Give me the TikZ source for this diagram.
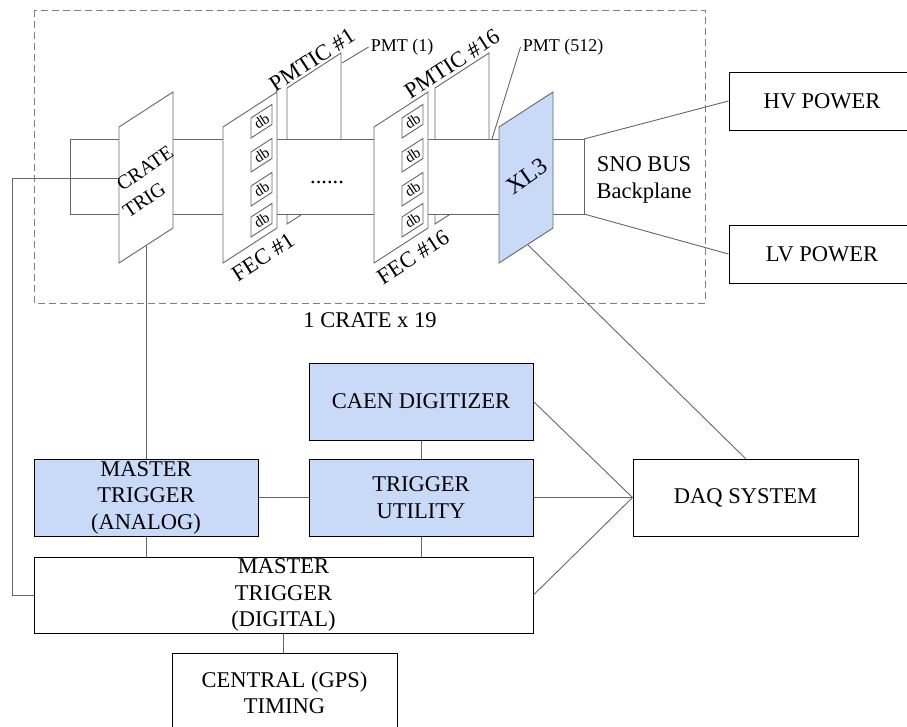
\documentclass[tikz,border=0pt]{standalone}
\usepackage{fontspec}
\setmainfont{Liberation Serif}
\usepackage{tikz}
\definecolor{cardblue}{HTML}{C9DAF8}
\definecolor{wiregray}{HTML}{666666}
\newcommand{\boxfont}{\fontsize{22.5}{26.5}\selectfont}
\newcommand{\smallfont}{\fontsize{18}{21}\selectfont}
\newcommand{\dbfont}{\fontsize{15}{17}\selectfont}
\tikzstyle{box} = [draw=black, line width=1pt, align=center, inner sep=0pt,
    minimum width=224pt, minimum height=77pt, font=\boxfont]
\tikzstyle{wire} = [draw=wiregray, line width=0.9pt]
\tikzstyle{cardline} = [draw=wiregray, line width=0.9pt]
\tikzstyle{cardtext} = [inner sep=2pt, align=center, font=\boxfont]
% one slanted card, bottom left corner at (#1,#2)
\newcommand{\card}[3]{\draw[cardline, fill=#3] (#1,#2) -- ++(0,-136) -- ++(54,-35) -- ++(0,136) -- cycle;}

\begin{document}
\begin{tikzpicture}[x=1pt, y=-1pt]
  \useasboundingbox (0,0) rectangle (907,726);
  % crate
  \draw[draw=gray, line width=0.9pt, dash pattern=on 7pt off 4pt] (34,10) rectangle (705,303);
  \node [cardtext] (crates) at (370,320) {1 CRATE x 19};
  % PMTIC cards behind the backplane
  \card{287}{224}{white}
  \card{435}{224}{white}
  \draw[cardline, fill=white] (70,139) rectangle (584,214);
  \card{119}{263}{white}
  \card{223}{263}{white}
  \card{374}{263}{white}
  \card{499}{263}{cardblue}
  \foreach \cx in {223,374}
    \foreach \dy in {125,91,57,26} {
      \draw[cardline, fill=white] (\cx+28,263-\dy) -- ++(0,-20) -- ++(21,-13.6) -- ++(0,20) -- cycle;
      \node [inner sep=0pt, font=\dbfont, rotate=33] at (\cx+38.5,263-\dy-16.8) {db};
    }
  \node [cardtext, rotate=34, align=left, font=\fontsize{20}{26}\selectfont] (ctrig) at (148,182) {\hspace*{10pt}CRATE\\TRIG};
  \node [cardtext, rotate=33] (fec1) at (263,257) {FEC \#1};
  \node [cardtext, rotate=33] (fec16) at (413,257) {FEC \#16};
  \node [cardtext, rotate=33] (pmtic1) at (312,60) {PMTIC \#1};
  \node [cardtext, rotate=33] (pmtic16) at (452,64) {PMTIC \#16};
  \node [cardtext, rotate=35, font=\fontsize{24}{28}\selectfont] (xl3) at (527,176) {XL3};
  \node [cardtext, font=\smallfont] (pmt1) at (402,47) {PMT (1)};
  \node [cardtext, font=\smallfont] (pmt512) at (563,47) {PMT (512)};
  \node [cardtext] (dots) at (327,182) {......};
  \node [cardtext] (snobus) at (644,180) {SNO BUS\\Backplane};
  \coordinate (ctw) at (119,178);
  \coordinate (cts) at (146,246);
  \coordinate (xls) at (528,245);
  \coordinate (bpne) at (584,139);
  \coordinate (bpse) at (584,214);
  \coordinate (pmtaend) at (342,63);
  \coordinate (pmtbend) at (492,139);
  % boxes
  \node [box, minimum width=186pt, minimum height=58pt] (hv) at (822,101) {HV POWER};
  \node [box, minimum width=186pt, minimum height=58pt] (lv) at (822,254) {LV POWER};
  \node [box, fill=cardblue] (caen) at (421,401.5) {CAEN DIGITIZER};
  \node [box, fill=cardblue] (tu) at (421,497.5) {TRIGGER\\UTILITY};
  \node [box, fill=cardblue] (mta) at (146,497.5) {MASTER\\TRIGGER\\(ANALOG)};
  \node [box, minimum width=499pt, minimum height=76pt] (mtd) at (283.5,595) {MASTER\\TRIGGER\\(DIGITAL)};
  \node [box, minimum width=225pt, minimum height=80pt] (gps) at (284.5,693) {CENTRAL (GPS)\\TIMING};
  \node [box, minimum width=225pt] (daq) at (745.5,497.5) {DAQ SYSTEM};
  % connections
  \draw[wire] (pmtaend) -- (pmt1.west);
  \draw[wire] (pmtbend) -- (pmt512.west);
  \draw[wire] (bpne) -- (hv.west);
  \draw[wire] (bpse) -- (lv.west);
  \draw[wire] (ctw) -- ++(-107,0) |- (mtd.west);
  \draw[wire] (cts) -- (mta.north);
  \draw[wire] (xls) -- (daq.north);
  \draw[wire] (mta.east) -- (tu.west);
  \draw[wire] (caen.south) -- (tu.north);
  \draw[wire] (tu.south) -- (tu.south |- mtd.north);
  \draw[wire] (mta.south) -- (mta.south |- mtd.north);
  \draw[wire] (mtd.south) -- (mtd.south |- gps.north);
  \draw[wire] (caen.east) -- (daq.west);
  \draw[wire] (tu.east) -- (daq.west);
  \draw[wire] (mtd.east) -- (daq.west);
\end{tikzpicture}
\end{document}
